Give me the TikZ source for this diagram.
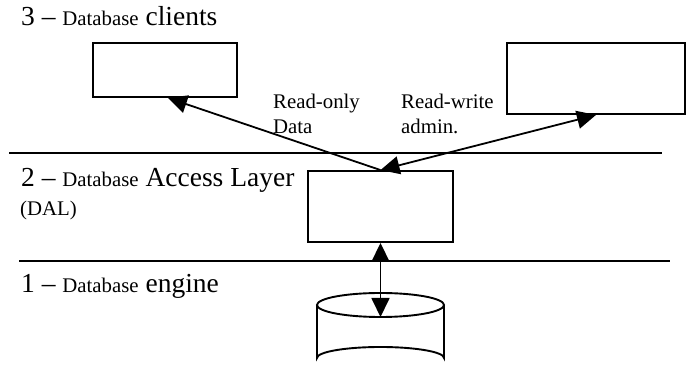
\documentclass[tikz,border=0pt]{standalone}
\usepackage{fontspec}
\setmainfont{Liberation Serif}
\usetikzlibrary{arrows.meta}
\newcommand{\bigtxt}{\fontsize{27.5}{31}\selectfont}
\newcommand{\smalltxt}{\fontsize{20.8}{24}\selectfont}
\tikzset{
  box/.style={draw, line width=1.9pt, rectangle, inner sep=0pt},
  layerline/.style={line width=2pt},
  link/.style={line width=1.8pt},
  tip/.style={-{Triangle[length=19pt,width=18pt]}},
  tips/.style={{Triangle[length=19pt,width=18pt]}-{Triangle[length=19pt,width=18pt]}},
  heading/.style={anchor=base west, inner sep=0pt},
  label/.style={anchor=base west, inner sep=0pt, font=\smalltxt, align=left}
}
\begin{document}
\begin{tikzpicture}[x=1pt, y=-1pt]
  \useasboundingbox (0,0) rectangle (686,371);

  % layer separators
  \draw[layerline] (9,153) -- (662,153);
  \draw[layerline] (19,261) -- (670,261);

  % layer headings
  \node[heading] (h3) at (21,26) {\bigtxt 3 -- {\smalltxt Database} clients};
  \node[heading] (h2) at (21,187) {\bigtxt 2 -- {\smalltxt Database} Access Layer};
  \node[heading] (h2b) at (20,216) {\smalltxt (DAL)};
  \node[heading] (h1) at (21,293) {\bigtxt 1 -- {\smalltxt Database} engine};

  % boxes
  \node[box, minimum width=144pt, minimum height=54pt] (c1) at (165,70) {};
  \node[box, minimum width=178pt, minimum height=71pt] (c2) at (596,78.5) {};
  \node[box, minimum width=145pt, minimum height=71pt] (dal) at (380.5,206.5) {};

  % database cylinder
  \draw[line width=1.9pt, fill=white]
    (317,305) -- (317,358) arc[start angle=180, end angle=360, x radius=63.5, y radius=11]
    -- (444,305);
  \draw[line width=1.9pt] (380.5,305) ellipse[x radius=63.5, y radius=12];
  \coordinate (db) at (380.5,317);

  % access links
  \draw[link, tip] (dal.north) -- ([xshift=3pt]c1.south);
  \draw[link, tips] (dal.north) -- (c2.south);
  \draw[link, tips] (dal.south) -- (db);

  % link labels
  \node[label] (ro) at (273,109) {Read-only};
  \node[label] (rod) at (273,134) {Data};
  \node[label] (rw) at (401,109) {Read-write};
  \node[label] (rwa) at (401,134) {admin.};
\end{tikzpicture}
\end{document}
